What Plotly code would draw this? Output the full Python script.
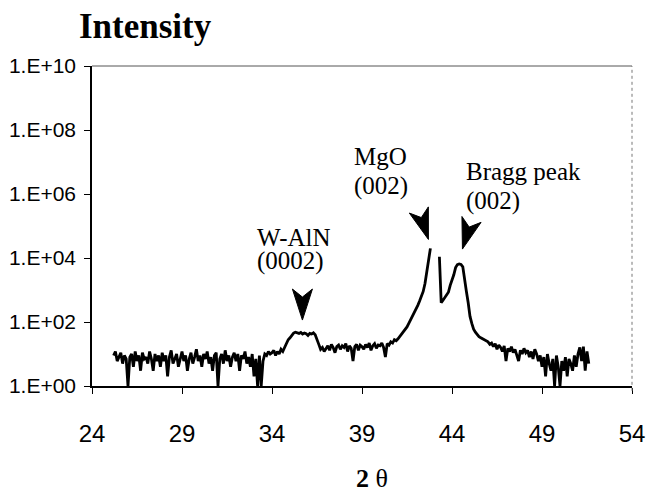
import math
import plotly.graph_objects as go

# ---- data (2-theta scan, step 0.1 deg from 25.2 to 51.6) ----
two_theta_start = 25.2
two_theta_step = 0.1
intensity = [
    # 25.2 - 25.9
    9, 12, 6, 8, 11, 5, 9, 7,
    # 26.x
    1, 8, 10, 4, 12, 6, 9, 3, 11, 7,
    # 27.x
    8, 5, 12, 7, 3, 10, 6, 9, 4, 11,
    # 28.x
    6, 9, 2, 8, 13, 5, 7, 10, 4, 8,
    # 29.x
    12, 6, 9, 3, 7, 11, 5, 8, 14, 6,
    # 30.x
    9, 4, 10, 7, 12, 5, 8, 3, 9, 11,
    # 31.x
    1, 7, 10, 5, 13, 6, 9, 4, 8, 11,
    # 32.x
    6, 10, 3, 9, 7, 12, 5, 8, 4, 10,
    # 33.x
    2, 7, 1, 9, 1, 6, 10, 9, 12, 10,
    # 34.x
    11, 13, 9, 12, 10, 14, 12, 16, 22, 28,
    # 35.x
    32, 38, 45, 48, 46, 44, 47, 42, 45, 43,
    # 36.x
    38, 44, 42, 46, 40, 30, 20, 14, 16, 12,
    # 37.x
    15, 18, 13, 20, 16, 11, 17, 19, 14, 18,
    # 38.x
    16, 21, 12, 18, 15, 6, 17, 20, 13, 19,
    # 39.x
    17, 14, 20, 16, 22, 13, 18, 21, 15, 19,
    # 40.x
    18, 22, 16, 8, 21, 19, 24, 22, 28, 26,
    # 41.x
    30, 35, 42, 48, 56, 70, 90, 115, 150, 190,
    # 42.x
    240, 330, 450, 620, 900, 1600, 4000, 9000, 20000, None,
    # 43.x
    None, None, None, 11000, 400, 480, 580, 700, 850, 1400,
    # 44.x
    2000, 3000, 5000, 6200, 6500, 6300, 5300, 2500, 900, 400,
    # 45.x
    150, 90, 60, 48, 40, 35, 32, 30, 28, 27,
    # 46.x
    24, 20, 22, 17, 21, 14, 19, 16, 12, 18,
    # 47.x
    6, 15, 12, 17, 11, 14, 9, 6, 13, 10,
    # 48.x
    15, 11, 13, 8, 12, 7, 14, 10, 6, 9,
    # 49.x
    4, 8, 2, 10, 5, 3, 7, 1, 9, 4,
    # 50.x
    1, 6, 3, 8, 2, 7, 5, 3, 9, 4,
    # 51.0 - 51.6
    10, 16, 6, 17, 3, 12, 5,
]
two_theta = [round(two_theta_start + i * two_theta_step, 1) for i in range(len(intensity))]

x_ticks = [24, 29, 34, 39, 44, 49, 54]
y_ticks = [1, 1e2, 1e4, 1e6, 1e8, 1e10]
y_tick_text = ["1.E+00", "1.E+02", "1.E+04", "1.E+06", "1.E+08", "1.E+10"]

# peak labels: (line1, line2, text-left 2theta, line1 log-y, line2 log-y)
peak_labels = [
    ("W-AlN", "(0002)", 33.03, 4.64, 3.92),
    ("MgO", "(002)", 38.42, 7.16, 6.25),
    ("Bragg peak", "(002)", 44.69, 6.69, 5.78),
]
# arrow tips: (2theta, intensity, rotation deg)
arrow_tips = [(35.69, 115, 0), (42.69, 38000, 18), (44.58, 19000, -17)]

SERIF = "Liberation Serif, Times New Roman, serif"
SANS = "Liberation Sans, Arial, sans-serif"

fig = go.Figure()
fig.add_trace(go.Scatter(
    x=two_theta, y=intensity, mode="lines",
    line=dict(color="black", width=2.8), connectgaps=False,
    hoverinfo="skip", showlegend=False,
))

annotations = []
for l1, l2, xl, y1, y2 in peak_labels:
    annotations.append(dict(x=xl, y=y1, xref="x", yref="y", text=l1, showarrow=False,
                            xanchor="left", yanchor="middle",
                            font=dict(family=SERIF, size=25, color="black")))
    annotations.append(dict(x=xl, y=y2, xref="x", yref="y", text=l2, showarrow=False,
                            xanchor="left", yanchor="middle",
                            font=dict(family=SERIF, size=25, color="black")))

annotations.append(dict(x=-0.027, y=1.122, xref="paper", yref="paper", text="<b>Intensity</b>",
                        showarrow=False, xanchor="left", yanchor="middle",
                        font=dict(family=SERIF, size=35, color="black")))
annotations.append(dict(x=0.519, y=-0.2875, xref="paper", yref="paper", text="<b>2</b> θ",
                        showarrow=False, xanchor="center", yanchor="middle",
                        font=dict(family=SERIF, size=26, color="black")))

shapes = []
base_pts = [(0, 0), (-10, 31), (0, 23), (10, 31)]
for xt, yt, rot in arrow_tips:
    a = math.radians(rot)
    pts = [(px * math.cos(a) - py * math.sin(a), px * math.sin(a) + py * math.cos(a)) for px, py in base_pts]
    path = "M" + " L".join(f"{px:.2f},{py:.2f}" for px, py in pts) + " Z"
    shapes.append(dict(type="path", xref="x", yref="y", xsizemode="pixel", ysizemode="pixel",
                       xanchor=xt, yanchor=yt, path=path,
                       fillcolor="black", line=dict(color="black", width=1)))

shapes.append(dict(type="line", xref="paper", yref="paper", x0=0, x1=1, y0=1, y1=1,
                   line=dict(color="#555555", width=1)))
shapes.append(dict(type="line", xref="paper", yref="paper", x0=1, x1=1, y0=-0.015, y1=1,
                   line=dict(color="#777777", width=1, dash="dot")))

fig.update_layout(
    width=652, height=495,
    margin=dict(l=92, r=20, t=66, b=109),
    paper_bgcolor="white", plot_bgcolor="white",
    annotations=annotations, shapes=shapes,
    xaxis=dict(range=[24, 54], tickvals=x_ticks, showgrid=False, zeroline=False,
               showline=True, linecolor="black", linewidth=1.5, automargin=False,
               ticks="outside", ticklen=6, tickcolor="black", tickwidth=1,
               ticklabelstandoff=19,
               tickfont=dict(family=SANS, size=24, color="black")),
    yaxis=dict(type="log", range=[0, 10], tickvals=y_ticks, ticktext=y_tick_text,
               showgrid=False, zeroline=False, automargin=False,
               showline=True, linecolor="black", linewidth=1.5,
               ticks="outside", ticklen=6, tickcolor="black", tickwidth=1,
               ticklabelstandoff=4,
               tickfont=dict(family=SANS, size=21, color="black")),
)

fig.write_html("out.html", config={"displayModeBar": False},
               post_script="document.body.style.margin='0';")
